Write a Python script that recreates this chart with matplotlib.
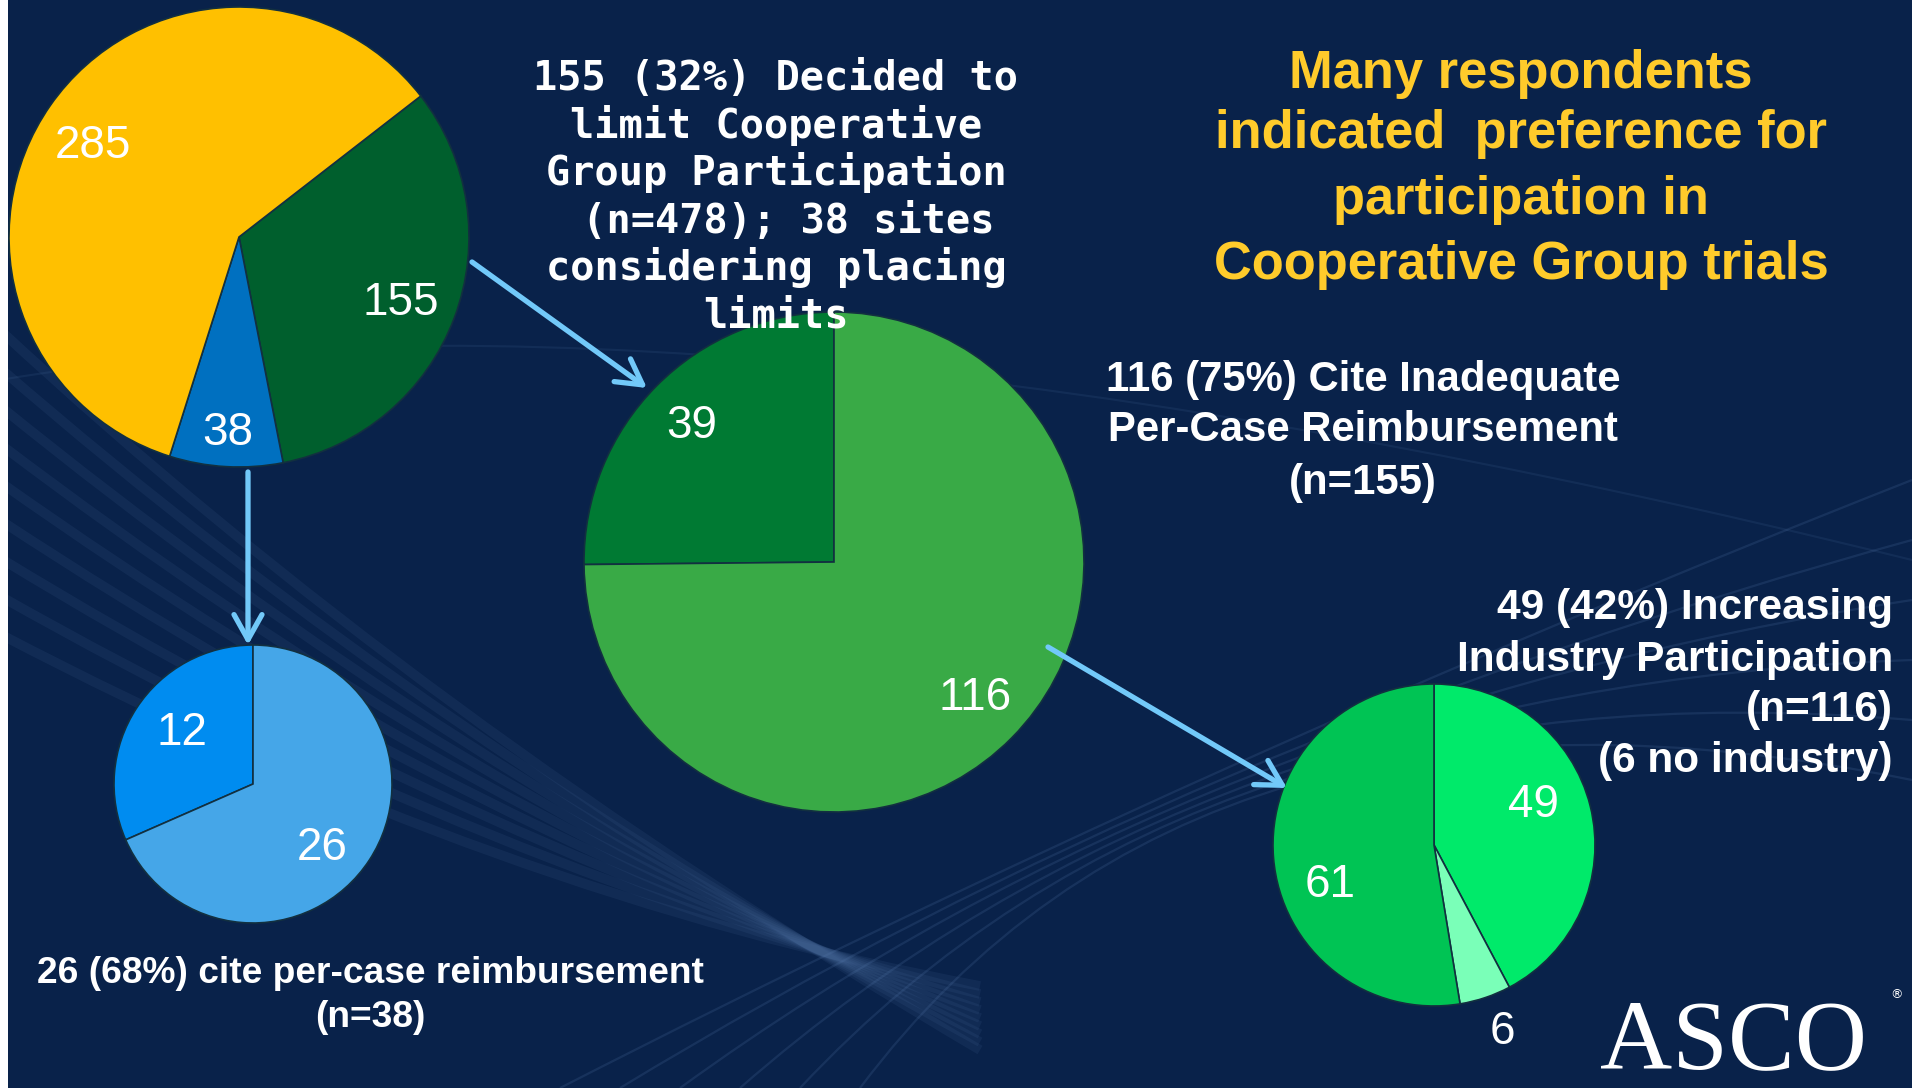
import numpy as np
import matplotlib
matplotlib.use("Agg")
import matplotlib.pyplot as plt
from matplotlib.patches import Rectangle, ArrowStyle, PathPatch
from matplotlib.path import Path

W, H = 1912, 1088

# ---------------- data ----------------
overall_labels = ["Decided to limit", "Considering limits", "No limits"]
overall_values = [155, 38, 285]

limit_reason_labels = ["Other reasons", "Inadequate per-case reimbursement"]
limit_reason_values = [39, 116]

industry_labels = ["Increasing industry participation", "No industry", "Other"]
industry_values = [49, 6, 61]

considering_labels = ["Other", "Per-case reimbursement"]
considering_values = [12, 26]

title_lines = ["Many respondents", "indicated  preference for",
               "participation in", "Cooperative Group trials"]
mono_lines = ["155 (32%) Decided to", "limit Cooperative", "Group Participation",
              " (n=478); 38 sites", "considering placing", "limits"]
reason_lines = ["116 (75%) Cite Inadequate", "Per-Case Reimbursement", "(n=155)"]
industry_lines = ["49 (42%) Increasing", "Industry Participation", "(n=116)",
                  "(6 no industry)"]
considering_lines = ["26 (68%) cite per-case reimbursement", "(n=38)"]

# ---------------- style ----------------
BG = "#09224A"
ARROW = "#72C9F9"
EDGE = "#123040"

fig = plt.figure(figsize=(W / 100, H / 100), dpi=100)
fig.patch.set_facecolor(BG)
ax = fig.add_axes([0, 0, 1, 1])
ax.set_facecolor(BG)


def Y(y):
    return H - y


# faint decorative swooshes in the background
def swoosh(p0, p1, p2, lw, alpha):
    verts = [(p0[0], Y(p0[1])), (p1[0], Y(p1[1])), (p2[0], Y(p2[1]))]
    path = Path(verts, [Path.MOVETO, Path.CURVE3, Path.CURVE3])
    ax.add_patch(PathPatch(path, fill=False, edgecolor="#5b7fb3", lw=lw,
                           alpha=alpha, zorder=0.2, capstyle="butt"))


for k in range(9):
    swoosh((0, 330 + 38 * k), (420 + 10 * k, 720 + 22 * k), (980, 1050 - 8 * k), 7, 0.10)
for k in range(6):
    swoosh((560 + 60 * k, 1088), (1200, 760 - 25 * k), (1912, 480 + 60 * k), 1.6, 0.18)
swoosh((0, 380), (700, 260), (1912, 560), 1.5, 0.12)

ax.add_patch(Rectangle((0, 0), 8, H, facecolor="white", edgecolor="none", zorder=0.5))


def draw_pie(values, colors, center, radius, startangle, counterclock, dists, rots):
    wedges = ax.pie(values, colors=colors, center=(center[0], Y(center[1])),
                    radius=radius, startangle=startangle, labeldistance=None,
                    counterclock=counterclock, frame=True,
                    wedgeprops=dict(edgecolor=EDGE, linewidth=1.2))[0]
    for w, v, d, r in zip(wedges, values, dists, rots):
        th = np.deg2rad((w.theta1 + w.theta2) / 2 + r)
        x = w.center[0] + w.r * d * np.cos(th)
        y = w.center[1] + w.r * d * np.sin(th)
        ax.text(x, y, str(v), ha="center", va="center_baseline", color="white",
                fontsize=33, family="Liberation Sans", zorder=5)


draw_pie(overall_values, ["#005F2D", "#0070C0", "#FFC000"], (239, 237), 230,
         37.8, False, [0.75, 0.83, 0.76], [0, 0, 1.5])
draw_pie(limit_reason_values, ["#007A33", "#39AA46"], (834, 562), 250,
         90, True, [0.80, 0.77], [0, 2])
draw_pie(industry_values, ["#00EA6A", "#7AFFB8", "#00C454"], (1434, 845), 161,
         90, False, [0.68, 1.21, 0.68], [10.4, 2, 13.9])
draw_pie(considering_values, ["#008CF0", "#45A6E8"], (253, 784), 139,
         90, True, [0.65, 0.65], [-5, -7.3])

# arrows
astyle = ArrowStyle("->", head_length=0.75, head_width=0.42)
for (x0, y0), (x1, y1) in [((472, 262), (647, 388)),
                           ((248, 472), (248, 645)),
                           ((1048, 647), (1287, 788))]:
    ax.annotate("", xy=(x1, Y(y1)), xytext=(x0, Y(y0)),
                arrowprops=dict(arrowstyle=astyle, color=ARROW, lw=3.8,
                                mutation_scale=24, shrinkA=0, shrinkB=0,
                                capstyle="round", joinstyle="round"),
                zorder=6)

# texts
for line, yb in zip(title_lines, [88, 148, 214, 279]):
    ax.text(1521, Y(yb), line, ha="center", va="baseline", color="#FFCB2B",
            fontsize=37.8, fontweight="bold", family="Liberation Sans", zorder=7)

for line, yb in zip(mono_lines, [90, 138, 185, 233, 280, 327]):
    ax.text(776, Y(yb), line, ha="center", va="baseline", color="white",
            fontsize=29, fontweight="bold", family="DejaVu Sans Mono", zorder=7)

for line, yb in zip(reason_lines, [391, 441, 494]):
    ax.text(1363, Y(yb), line, ha="center", va="baseline", color="white",
            fontsize=30.2, fontweight="bold", family="Liberation Sans", zorder=7)

for line, yb in zip(industry_lines, [619, 671, 721, 772]):
    ax.text(1893, Y(yb), line, ha="right", va="baseline", color="white",
            fontsize=30.5, fontweight="bold", family="Liberation Sans", zorder=7)

for line, yb in zip(considering_lines, [983, 1027]):
    ax.text(370, Y(yb), line, ha="center", va="baseline", color="white",
            fontsize=26.7, fontweight="bold", family="Liberation Sans", zorder=7)

# logo
ax.text(1600, Y(1068), "ASCO", ha="left", va="baseline", color="white",
        fontsize=72, family="Liberation Serif", zorder=7)
ax.text(1897, Y(995), "®", ha="center", va="center", color="white",
        fontsize=9, family="DejaVu Sans", zorder=7)

ax.set_xlim(0, W)
ax.set_ylim(0, H)
ax.set_aspect("equal")
ax.axis("off")

fig.savefig("out.png", dpi=100, facecolor=BG)
